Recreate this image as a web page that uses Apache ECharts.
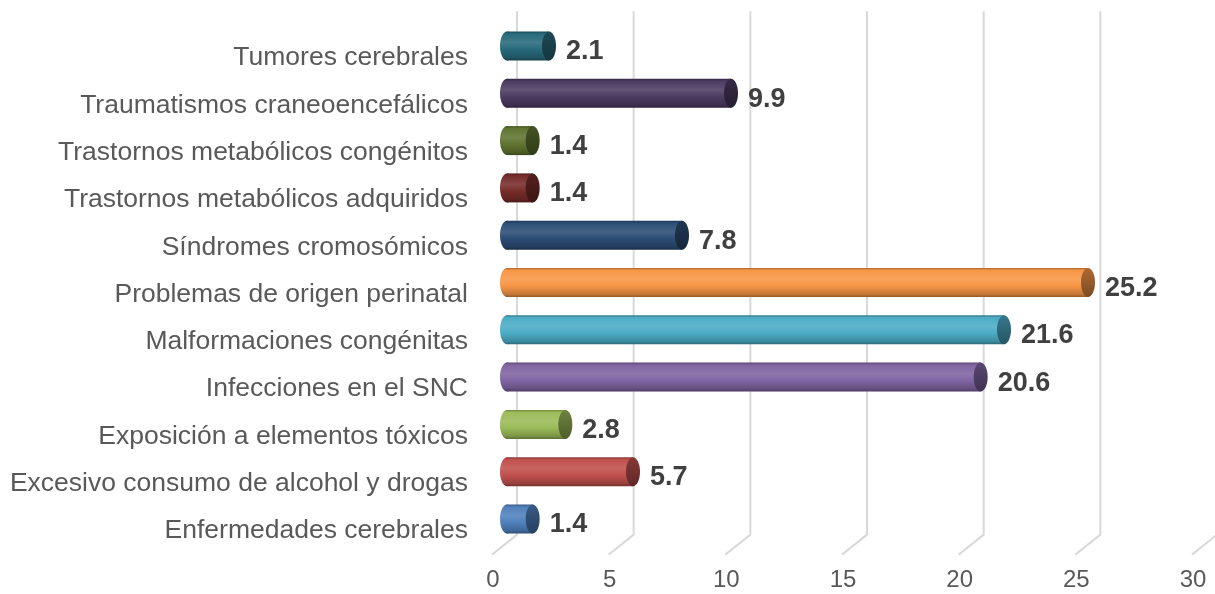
<!DOCTYPE html>
<html>
<head>
<meta charset="utf-8">
<script src="https://cdn.jsdelivr.net/npm/echarts@6/dist/echarts.min.js"></script>
<style>
  html, body { margin: 0; padding: 0; background: #fff; }
  #chart { width: 1215px; height: 594px; }
</style>
</head>
<body>
<div id="chart"></div>
<script>
// bottom to top, as the category axis runs
var categories = [
  'Enfermedades cerebrales',
  'Excesivo consumo de alcohol y drogas',
  'Exposición a elementos tóxicos',
  'Infecciones en el SNC',
  'Malformaciones congénitas',
  'Problemas de origen perinatal',
  'Síndromes cromosómicos',
  'Trastornos metabólicos adquiridos',
  'Trastornos metabólicos congénitos',
  'Traumatismos craneoencefálicos',
  'Tumores cerebrales'
]
var values = [1.4, 5.7, 2.8, 20.6, 21.6, 25.2, 7.8, 1.4, 1.4, 9.9, 2.1]
var barColors = [
  '#4f81bd', '#c0504d', '#9bbb59', '#8064a2', '#4bacc6', '#f79646',
  '#2c4d75', '#772c2a', '#5f7530', '#4d3b62', '#276a7c'
]
var xTicks = [0, 5, 10, 15, 20, 25, 30]

var FONT = '"Liberation Sans", Arial, sans-serif'

function mix(hex, target, t) {
  var n = parseInt(hex.slice(1), 16)
  var rgb = [(n >> 16) & 255, (n >> 8) & 255, n & 255].map(function (c) {
    return Math.round(c + (target - c) * t)
  })
  return 'rgb(' + rgb.join(',') + ')'
}

function renderGrid(params, api) {
  var cs = params.coordSys
  var x = api.coord([api.value(0), 0])[0]
  var top = cs.y
  var bottom = cs.y + cs.height
  return {
    type: 'polyline',
    shape: { points: [[x + 17, top - 20], [x + 17, bottom - 17], [x - 8, bottom + 3]] },
    style: { stroke: '#d9d9d9', lineWidth: 2, fill: null }
  }
}

function renderBar(params, api) {
  var v = api.value(0)
  var idx = api.value(1)
  var p0 = api.coord([0, idx])
  var p1 = api.coord([v, idx])
  var h = 29, ry = h / 2, rx = 7
  var cy = p0[1] - 9
  var x0 = p0[0]
  var xe = p1[0]
  var c = barColors[idx]
  var body = new echarts.graphic.LinearGradient(0, 0, 0, 1, [
    { offset: 0, color: mix(c, 0, 0.3) },
    { offset: 0.08, color: c },
    { offset: 0.38, color: mix(c, 255, 0.12) },
    { offset: 0.62, color: c },
    { offset: 0.9, color: mix(c, 0, 0.2) },
    { offset: 1, color: mix(c, 0, 0.4) }
  ])
  var cap = new echarts.graphic.LinearGradient(0, 0, 0, 1, [
    { offset: 0, color: mix(c, 0, 0.3) },
    { offset: 1, color: mix(c, 0, 0.5) }
  ])
  return {
    type: 'group',
    children: [
      { type: 'ellipse', shape: { cx: x0 + rx, cy: cy, rx: rx, ry: ry }, style: { fill: body } },
      { type: 'rect', shape: { x: x0 + rx, y: cy - ry, width: Math.max(xe - x0 - rx, 0), height: h }, style: { fill: body } },
      { type: 'ellipse', shape: { cx: xe, cy: cy, rx: rx, ry: ry }, style: { fill: cap } },
      {
        type: 'text',
        x: xe + rx + 10,
        y: p0[1] - 3,
        style: {
          text: v.toFixed(1),
          fill: '#404040',
          font: 'bold 27px ' + FONT,
          align: 'left',
          verticalAlign: 'middle'
        }
      }
    ]
  }
}

var chart = echarts.init(document.getElementById('chart'))
chart.setOption({
  animation: false,
  grid: { left: 500, right: 15, top: 31.35, bottom: 42.35 },
  xAxis: {
    type: 'value',
    min: 0,
    max: 30,
    interval: 5,
    axisLine: { show: false },
    axisTick: { show: false },
    splitLine: { show: false },
    axisLabel: {
      fontSize: 24,
      fontFamily: FONT,
      color: '#595959',
      margin: 17,
      padding: [0, 14, 0, 0]
    }
  },
  yAxis: {
    type: 'category',
    data: categories,
    axisLine: { show: false },
    axisTick: { show: false },
    splitLine: { show: false },
    axisLabel: {
      margin: 32,
      formatter: function (name) { return '{c|' + name + '}' },
      rich: {
        c: {
          fontSize: 26.5,
          fontFamily: FONT,
          color: '#595959',
          padding: [6, 0, 0, 0]
        }
      }
    }
  },
  series: [
    {
      type: 'custom',
      z: 1,
      silent: true,
      renderItem: renderGrid,
      encode: { x: 0, y: 1 },
      data: xTicks.map(function (t) { return [t, 0] })
    },
    {
      type: 'custom',
      z: 2,
      renderItem: renderBar,
      encode: { x: 0, y: 1 },
      data: values.map(function (v, i) { return [v, i] })
    }
  ]
})
</script>
</body>
</html>
